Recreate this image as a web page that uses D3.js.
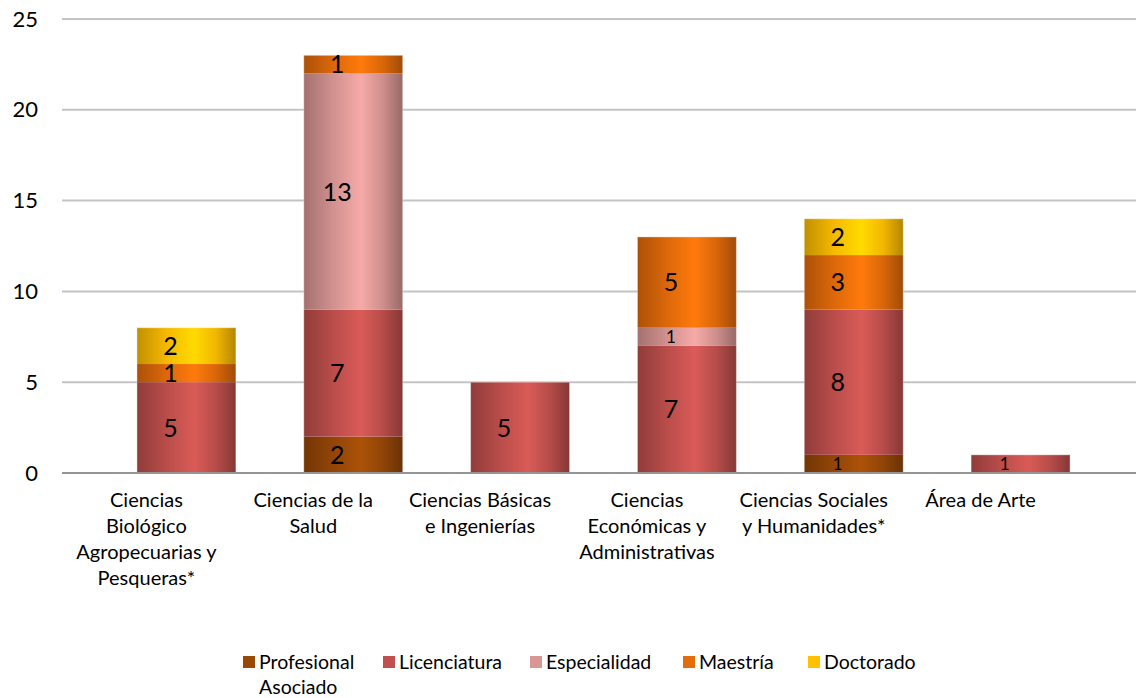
<!DOCTYPE html>
<html>
<head>
<meta charset="utf-8">
<script src="https://cdn.jsdelivr.net/npm/d3@7"></script>
<style>
  body { margin: 0; background: #fff; }
  text { font-family: Lato, "Open Sans", sans-serif; fill: #000; }
</style>
</head>
<body>
<div id="chart"></div>
<script>
// Data
var categories = [
    "Ciencias\nBiológico\nAgropecuarias y\nPesqueras*",
    "Ciencias de la\nSalud",
    "Ciencias Básicas\ne Ingenierías",
    "Ciencias\nEconómicas y\nAdministrativas",
    "Ciencias Sociales\ny Humanidades*",
    "Área de Arte"
];
var seriesNames = ["Profesional Asociado", "Licenciatura", "Especialidad", "Maestría", "Doctorado"];
var profesional = [0, 2, 0, 0, 1, 0];
var licenciatura = [5, 7, 5, 7, 8, 1];
var especialidad = [0, 13, 0, 1, 0, 0];
var maestria = [1, 1, 0, 5, 3, 0];
var doctorado = [2, 0, 0, 0, 2, 0];
var yTicks = [0, 5, 10, 15, 20, 25];
var colors = ["#984807", "#C0504D", "#D99694", "#E46C0A", "#FFC000"];

var values = [profesional, licenciatura, especialidad, maestria, doctorado];
var table = categories.map((c, i) => {
    var row = { cat: c, idx: i };
    seriesNames.forEach((s, j) => row[s] = values[j][i]);
    return row;
});

var width = 1136, height = 698;
var svg = d3.select("#chart").append("svg")
    .attr("width", width)
    .attr("height", height);

// gradients (cylinder look)
var defs = svg.append("defs");
colors.forEach((c, j) => {
    var g = defs.append("linearGradient")
        .attr("id", "grad" + j)
        .attr("x1", "0%").attr("x2", "100%").attr("y1", "0%").attr("y2", "0%");
    var base = d3.color(c);
    g.append("stop").attr("offset", "0%").attr("stop-color", base.darker(0.8));
    g.append("stop").attr("offset", "30%").attr("stop-color", base.darker(0.1));
    g.append("stop").attr("offset", "58%").attr("stop-color", base.brighter(0.35));
    g.append("stop").attr("offset", "80%").attr("stop-color", base.darker(0.15));
    g.append("stop").attr("offset", "100%").attr("stop-color", base.darker(1));
});

// Scales
var x = d3.scaleBand()
    .domain(d3.range(categories.length))
    .range([103, 1104])
    .paddingInner(0.407)
    .paddingOuter(0.2035);

var y = d3.scaleLinear()
    .domain([0, 25])
    .range([473, 19]);

// Gridlines
svg.append("g")
    .selectAll("line")
    .data(yTicks.filter(d => d > 0))
    .enter().append("line")
    .attr("x1", 62).attr("x2", width)
    .attr("y1", d => y(d)).attr("y2", d => y(d))
    .attr("stroke", "#c4c4c4")
    .attr("stroke-width", 2);

// Y axis labels
var yAxis = svg.append("g")
    .attr("transform", "translate(38,0)")
    .call(d3.axisLeft(y).tickValues(yTicks).tickSize(0).tickPadding(0));
yAxis.select(".domain").remove();
yAxis.selectAll("text")
    .style("font-family", "Lato, 'Open Sans', sans-serif")
    .style("font-size", "22px");

// Stacked bars
var stack = d3.stack().keys(seriesNames);
var stacked = stack(table);

var layers = svg.append("g")
    .selectAll("g")
    .data(stacked)
    .enter().append("g")
    .attr("fill", (d, j) => "url(#grad" + j + ")");

layers.selectAll("rect")
    .data(d => d.filter(p => p[1] - p[0] > 0))
    .enter().append("rect")
    .attr("x", d => x(d.data.idx))
    .attr("width", x.bandwidth())
    .attr("y", d => y(d[1]))
    .attr("height", d => y(d[0]) - y(d[1]));

// bar outline
svg.append("g")
    .selectAll("rect")
    .data(table)
    .enter().append("rect")
    .attr("x", d => x(d.idx))
    .attr("width", x.bandwidth())
    .attr("y", d => y(d3.sum(seriesNames, s => d[s])))
    .attr("height", d => y(0) - y(d3.sum(seriesNames, s => d[s])))
    .attr("fill", "none")
    .attr("stroke", "#ffffff")
    .attr("stroke-opacity", 0.35)
    .attr("stroke-width", 1);

// Value labels (sit a little left of the bar centre, as in the original)
var smallLabels = ["2|Especialidad", "3|Especialidad", "4|Profesional Asociado", "5|Licenciatura"];
stacked.forEach(layer => {
    svg.append("g")
        .selectAll("text")
        .data(layer.filter(p => p[1] - p[0] > 0))
        .enter().append("text")
        .attr("x", d => x(d.data.idx) + x.bandwidth() / 2 - 16)
        .attr("y", d => (y(d[0]) + y(d[1])) / 2)
        .attr("dy", "0.36em")
        .attr("text-anchor", "middle")
        .style("font-size", d => smallLabels.indexOf(d.data.idx + "|" + layer.key) >= 0 ? "17px" : "25px")
        .text(d => d[1] - d[0]);
});

// X axis line
svg.append("line")
    .attr("x1", 62).attr("x2", width)
    .attr("y1", y(0)).attr("y2", y(0))
    .attr("stroke", "#959595")
    .attr("stroke-width", 2);

// X labels
var xl = svg.append("g")
    .selectAll("text")
    .data(categories)
    .enter().append("text")
    .attr("x", (d, i) => x(i) + x.bandwidth() / 2 - 40)
    .attr("y", 507)
    .attr("text-anchor", "middle")
    .style("font-size", "20px");
xl.selectAll("tspan")
    .data(d => d.split("\n"))
    .enter().append("tspan")
    .attr("x", function () { return d3.select(this.parentNode).attr("x"); })
    .attr("dy", (d, i) => i === 0 ? 0 : 26)
    .text(d => d);

// Legend
var legendX = [243, 383, 530, 683, 808];
var legend = svg.selectAll(".legend")
    .data(seriesNames)
    .enter().append("g")
    .attr("class", "legend")
    .attr("transform", (d, i) => "translate(" + legendX[i] + ",656)");

legend.append("rect")
    .attr("width", 12)
    .attr("height", 12)
    .style("fill", (d, i) => colors[i]);

legend.append("text")
    .attr("x", 16)
    .attr("y", 13)
    .style("font-size", "19.5px")
    .selectAll("tspan")
    .data(d => d === "Profesional Asociado" ? ["Profesional", "Asociado"] : [d])
    .enter().append("tspan")
    .attr("x", 16)
    .attr("dy", (d, i) => i === 0 ? 0 : 25)
    .text(d => d);
</script>
</body>
</html>
